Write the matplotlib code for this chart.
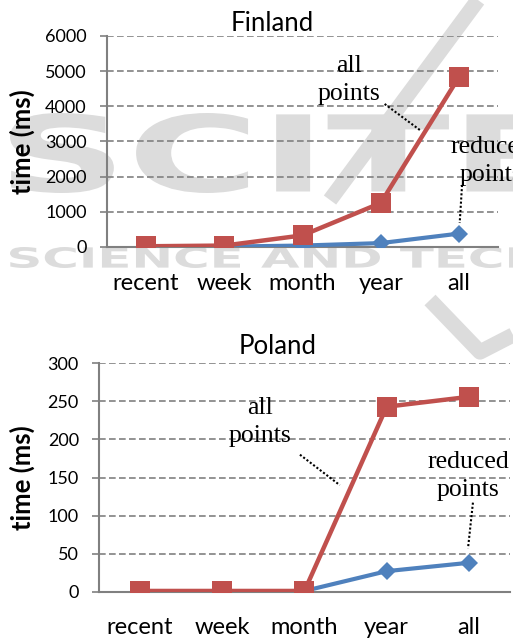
"""Query time per period for Finland and Poland, all vs reduced points."""

import matplotlib.pyplot as plt
from matplotlib.patches import PathPatch
from matplotlib.textpath import TextPath
from matplotlib.font_manager import FontProperties
from matplotlib.transforms import Affine2D
from matplotlib.lines import Line2D

categories = ["recent", "week", "month", "year", "all"]

finland_all = [20, 40, 330, 1250, 4830]
finland_reduced = [5, 10, 40, 110, 380]
finland_ticks = [0, 1000, 2000, 3000, 4000, 5000, 6000]

poland_all = [1, 1, 1, 243, 256]
poland_reduced = [0, 0, 1, 27, 38]
poland_ticks = [0, 50, 100, 150, 200, 250, 300]

RED = "#C0504D"
BLUE = "#4F81BD"
GRID = "#808080"
MARK = "#dcdcdc"
SANS = ["Lato", "DejaVu Sans"]
SERIF = ["Liberation Serif", "DejaVu Serif"]

W, H = 513, 639
fig = plt.figure(figsize=(W / 100, H / 100), dpi=100)


def watermark(text, x0, y_top, x1, y_bottom, size_ref=None):
    """Grey logo text stretched into a pixel box (top-left origin)."""
    prop = FontProperties(family="DejaVu Sans", weight="bold")
    tp = TextPath((0, 0), text, size=100, prop=prop)
    ext = tp.get_extents()
    ref = ext if size_ref is None else TextPath((0, 0), size_ref, size=100, prop=prop).get_extents()
    cap = TextPath((0, 0), "S", size=100, prop=prop).get_extents()
    sx = (x1 - x0) / ref.width
    sy = (y_bottom - y_top) / cap.height
    tr = Affine2D().translate(-ext.x0, -cap.y0).scale(sx, sy).translate(x0, H - y_bottom)
    patch = PathPatch(tr.transform_path(tp), facecolor=MARK, edgecolor="none", zorder=-5)
    patch.set_transform(Affine2D())
    fig.add_artist(patch)


watermark("SCITE", 10, 113, 560, 193)
watermark("SCIENCE AND TECHNOLOGY", 10, 247, 240, 268, size_ref="SCIENCE")
for xs, ys in [([478, 330], [0, 200]), ([430, 480, 513], [300, 352, 335])]:
    fig.add_artist(Line2D(xs, [H - y for y in ys], color=MARK, lw=11,
                          solid_capstyle="butt", transform=Affine2D(), zorder=-5))


def draw_panel(ax, all_pts, reduced_pts, ticks, all_txt, all_line, red_txt, red_line):
    x = range(len(categories))
    ax.set_facecolor("none")
    ax.plot(x, reduced_pts, color=BLUE, lw=3, marker="D", ms=9.5, mew=0, zorder=3)
    ax.plot(x, all_pts, color=RED, lw=3.2, marker="s", ms=14, mew=0, zorder=4)
    ax.set_xlim(-0.5, len(categories) - 0.5)
    ax.set_ylim(ticks[0], ticks[-1])
    ax.set_yticks(ticks)
    ax.set_xticks(list(x))
    ax.set_xticklabels(categories, fontsize=17, family=SANS)
    for lab in ax.get_yticklabels():
        lab.set_fontsize(13)
        lab.set_family(SANS)
    ax.yaxis.grid(True, color=GRID, ls=(0, (4, 2)), lw=1.2)
    ax.set_axisbelow(True)
    for s in ["top", "right"]:
        ax.spines[s].set_visible(False)
    for s in ["left", "bottom"]:
        ax.spines[s].set_color(GRID)
        ax.spines[s].set_linewidth(1.5)
    ax.tick_params(axis="y", length=5, width=1.2, color=GRID, pad=9.5)
    ax.tick_params(axis="x", length=0, pad=18.5)

    ax.text(*all_txt, "all\npoints", ha="center", va="center", fontsize=18.5,
            family=SERIF, linespacing=1.4, zorder=6)
    ax.plot(*all_line, color="black", ls=(0, (1, 1)), lw=1.5, zorder=6)
    ax.text(*red_txt, "reduced\npoints", ha="center", va="center", fontsize=18.5,
            family=SERIF, linespacing=1.4, zorder=6, clip_on=False)
    ax.plot(*red_line, color="black", ls=(0, (1, 1)), lw=1.5, zorder=6)


ax1 = fig.add_axes([0.2086, 0.6135, 0.7622, 0.3302])
draw_panel(ax1, finland_all, finland_reduced, finland_ticks,
           (2.60, 4750), ([3.05, 3.5], [4066, 3327]),
           (4.41, 2445), ([4.04, 4.01], [1763, 682]))

ax2 = fig.add_axes([0.193, 0.074, 0.801, 0.3574])
draw_panel(ax2, poland_all, poland_reduced, poland_ticks,
           (1.46, 223), ([1.945, 2.43], [180, 140]),
           (3.99, 152), ([4.05, 3.99], [117, 57]))

fig.text(0.530, 0.964, "Finland", ha="center", va="center", fontsize=18.5, family=SANS)
fig.text(0.542, 0.4585, "Poland", ha="center", va="center", fontsize=18.5, family=SANS)
fig.text(0.043, 0.779, "time (ms)", ha="center", va="center", rotation=90,
         fontsize=18.5, fontweight="bold", family=SANS)
fig.text(0.043, 0.252, "time (ms)", ha="center", va="center", rotation=90,
         fontsize=18.5, fontweight="bold", family=SANS)

fig.savefig("out.png", dpi=100)
